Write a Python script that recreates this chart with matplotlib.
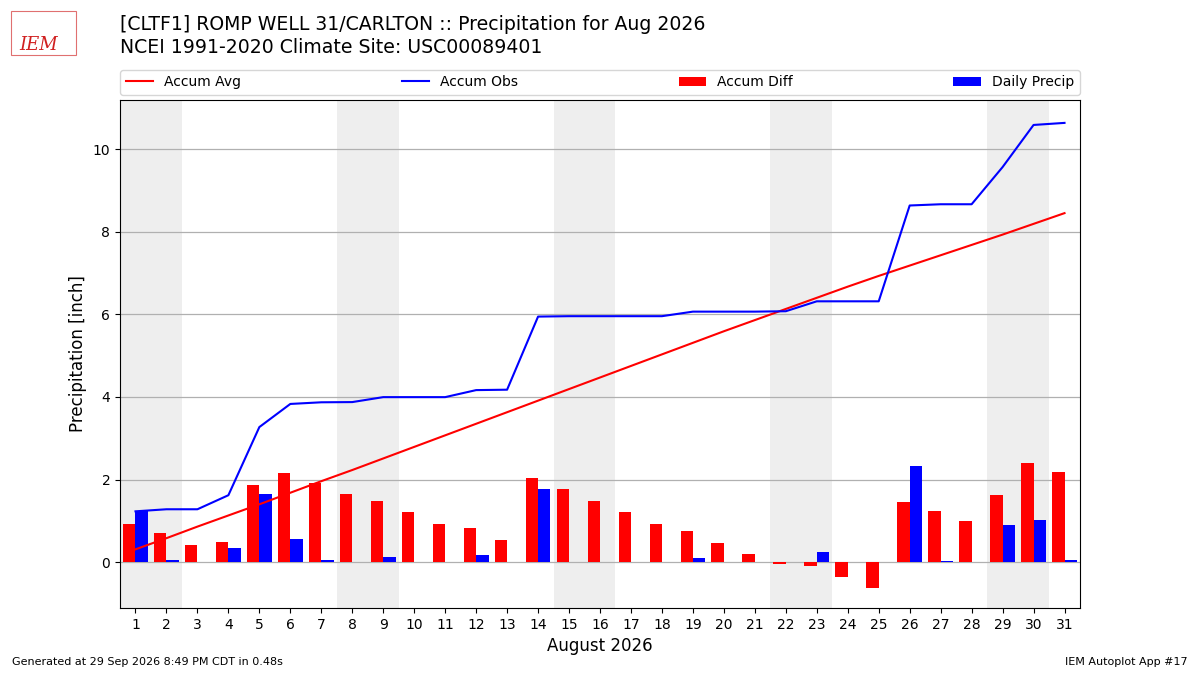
import numpy as np
import matplotlib.pyplot as plt
from matplotlib.patches import Rectangle

days = list(range(1, 32))
daily_precip = [1.23, 0.05, 0.00, 0.34, 1.65, 0.56, 0.04, 0.005, 0.12, 0.00,
                0.00, 0.17, 0.01, 1.77, 0.01, 0.00, 0.00, 0.00, 0.11, 0.00,
                0.00, 0.01, 0.24, 0.00, 0.00, 2.32, 0.03, 0.00, 0.90, 1.02,
                0.05]
accum_avg = [0.31, 0.58, 0.86, 1.13, 1.40, 1.68, 1.96, 2.23, 2.51, 2.79,
             3.07, 3.35, 3.63, 3.91, 4.19, 4.47, 4.75, 5.03, 5.31, 5.59,
             5.86, 6.13, 6.40, 6.67, 6.93, 7.18, 7.43, 7.68, 7.93, 8.19,
             8.45]
weekends = [(1, 2), (8, 9), (15, 16), (22, 23), (29, 30)]

accum_obs = np.cumsum(daily_precip)
accum_diff = accum_obs - np.array(accum_avg)
x = np.array(days)

fig = plt.figure(figsize=(12, 6.75), dpi=100)
ax = fig.add_axes([0.1, 0.0993, 0.8, 0.7526])

for start, end in weekends:
    ax.axvspan(start - 0.5, end + 0.5, color='#EEEEEE', zorder=0, lw=0)

b1 = ax.bar(x - 0.2, accum_diff, width=0.4, color='r', zorder=2)
b2 = ax.bar(x + 0.2, daily_precip, width=0.4, color='b', zorder=2)
l1, = ax.plot(x, accum_avg, color='r', lw=1.5, zorder=3)
l2, = ax.plot(x, accum_obs, color='b', lw=1.5, zorder=3)

ax.set_xlim(0.5, 31.5)
ax.set_ylim(-1.11, 11.19)
ax.set_xticks(days)
ax.set_yticks([0, 2, 4, 6, 8, 10])
ax.tick_params(labelsize=10)
ax.grid(axis='y', color='#b0b0b0', lw=0.9, zorder=1)
ax.set_axisbelow(True)
ax.set_xlabel('August 2026', fontsize=12)
ax.set_ylabel('Precipitation [inch]', fontsize=12)

ax.legend([l1, l2, b1, b2], ['Accum Avg', 'Accum Obs', 'Accum Diff', 'Daily Precip'],
          loc='lower left', bbox_to_anchor=(0, 1.01, 1, 0.102), ncol=4,
          mode='expand', borderaxespad=0, fontsize=10)

fig.text(0.1, 0.964, '[CLTF1] ROMP WELL 31/CARLTON :: Precipitation for Aug 2026',
         fontsize=13.6, va='center')
fig.text(0.1, 0.929, 'NCEI 1991-2020 Climate Site: USC00089401',
         fontsize=13.6, va='center')
fig.text(0.01, 0.015, 'Generated at 29 Sep 2026 8:49 PM CDT in 0.48s', fontsize=8)
fig.text(0.99, 0.015, 'IEM Autoplot App #17', fontsize=8, ha='right')

# rough stand-in for the IEM logo
fig.patches.append(Rectangle((0.009, 0.918), 0.054, 0.066, transform=fig.transFigure,
                             fill=False, edgecolor='#e07070', lw=0.8))
fig.text(0.032, 0.933, 'IEM', fontsize=13, color='#d02020', family='DejaVu Serif',
         style='italic', ha='center', va='center')

fig.savefig('out.png', dpi=100)
